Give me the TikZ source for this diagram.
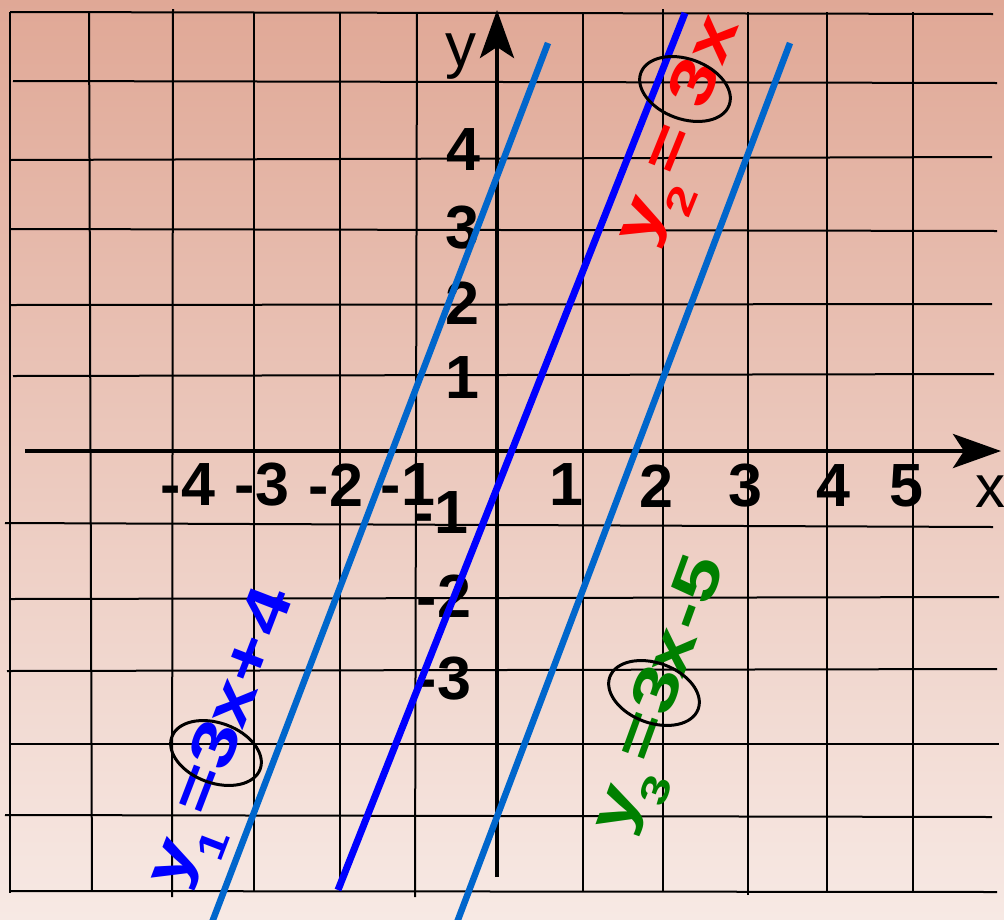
\documentclass[tikz,border=0pt]{standalone}
\usepackage{fontspec}
\setmainfont{Liberation Sans}
\newfontfamily\eqfont[FakeStretch=1.33]{Liberation Sans}
\usetikzlibrary{arrows.meta,shapes.geometric}
\definecolor{bgtop}{RGB}{224,168,150}
\definecolor{bgbot}{RGB}{247,233,228}
\definecolor{lblue}{RGB}{0,102,204}
\definecolor{dblue}{RGB}{0,0,255}
\definecolor{eqred}{RGB}{255,0,0}
\definecolor{eqgreen}{RGB}{0,128,0}
\definecolor{eqblue}{RGB}{0,0,255}
\begin{document}
\begin{tikzpicture}[x=1pt,y=-1pt,
  gridline/.style={line width=2pt, black},
  axisline/.style={line width=4.5pt, black, -{Stealth[length=48pt,width=34pt,inset=11pt]}},
  num/.style={font=\fontsize{61}{61}\selectfont\bfseries, inner sep=0pt, text=black},
  axlbl/.style={font=\fontsize{62}{62}\selectfont, inner sep=0pt, text=black},
  eqlbl/.style={font=\eqfont\bfseries\fontsize{62}{62}\selectfont, inner sep=0pt, anchor=base west},
  graphA/.style={line width=6.5pt, lblue},
  graphB/.style={line width=7pt, dblue},
  ring/.style={draw=black, line width=3pt, ellipse, minimum width=94pt, minimum height=60pt, inner sep=0pt, rotate=-20}
]
\useasboundingbox (0,0) rectangle (1004,919);
\shade[top color=bgtop, bottom color=bgbot] (0,0) rectangle (1004,919);
\clip (0,0) rectangle (1004,919);

% grid: vertical lines
\foreach \xa/\xb/\ya/\yb in {10/10/12/893, 89/92/12/891, 173/172/9/897, 254/254/12/892,
  340/340/12/891, 417/415/12/897, 583/583/12/891, 663/663/9/891, 748/748/12/895,
  827/827/12/891, 913/913/12/891}
  \draw[gridline] (\xa,\ya) -- (\xb,\yb);
% grid: horizontal lines
\foreach \xa/\ya/\xb/\yb in {10/12/993/14, 13/81/997/83, 10/160/992/157, 10/229/997/231,
  10/305/992/304, 13/376/994/374, 5/523/993/527, 10/599/999/597, 7/671/997/669,
  10/744/999/744, 5/815/992/817, 10/891/997/892}
  \draw[gridline] (\xa,\ya) -- (\xb,\yb);

% axes
\coordinate (xs) at (25,451);
\coordinate (xe) at (1001,451);
\coordinate (ys) at (497,877);
\coordinate (ye) at (497,10);
\draw[axisline] (xs) -- (xe);
\draw[axisline] (ys) -- (ye);
\node[axlbl] (ylab) at (461,57) {y};
\node[axlbl, font=\fontsize{60}{60}\selectfont] (xlab) at (990,492) {x};

% axis numbers
\foreach \n/\t/\px/\py in {xm4/-4/188/485, xm3/-3/262/485, xm2/-2/336/485, xm1/-1/408/485,
  xp1/1/566/485, xp2/2/656/486, xp3/3/745/486, xp4/4/833/486, xp5/5/906/486,
  yp4/4/463/150, yp3/3/462/228, yp2/2/462/303, yp1/1/462/378,
  ym1/-1/441/513, ym2/-2/444/596, ym3/-3/444/679}
  \node[num] (\n) at (\px,\py) {\t};

% graphs
\coordinate (g1a) at (548,43);  \coordinate (g1b) at (211,925);
\coordinate (g2a) at (685,13);  \coordinate (g2b) at (338,890);
\coordinate (g3a) at (790,43);  \coordinate (g3b) at (456,925);
\draw[graphA] (g1a) -- (g1b);
\draw[graphB] (g2a) -- (g2b);
\draw[graphA] (g3a) -- (g3b);

% equation labels
\node[eqlbl, text=eqred, rotate=68] (eq2) at (649,249)
  {y\kern-4pt\raisebox{-26pt}{\fontsize{39}{39}\selectfont 2}\kern5.5pt=\kern24pt 3\kern1pt x};
\node[eqlbl, text=eqblue, rotate=69] (eq1) at (181,891)
  {y\kern-5.7pt\raisebox{-27pt}{\fontsize{39}{39}\selectfont 1}\kern8.4pt=3\kern-1pt x+\kern4.8pt 4};
\node[eqlbl, text=eqgreen, rotate=70] (eq3) at (626,837)
  {y\kern-6.5pt\raisebox{-25pt}{\fontsize{39}{39}\selectfont 3}\kern7.5pt=\kern1.6pt 3\kern-5pt x\kern3.6pt -\kern1.3pt 5};

% rings around the slope
\node[ring] (r2) at (685,89) {};
\node[ring] (r1) at (216,753) {};
\node[ring] (r3) at (654,693) {};
\end{tikzpicture}
\end{document}
